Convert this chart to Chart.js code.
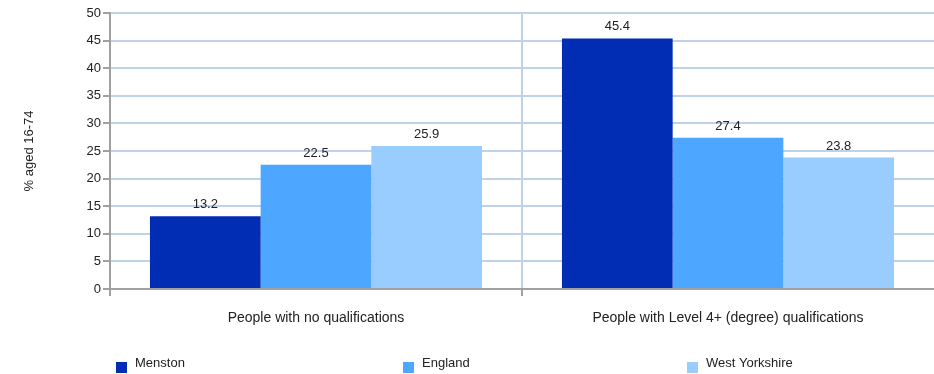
<!DOCTYPE html>
<html>
<head>
<meta charset="utf-8">
<script src="https://cdn.jsdelivr.net/npm/chart.js@4/dist/chart.umd.min.js"></script>
<style>
  html, body { margin: 0; padding: 0; background: #ffffff; }
  #wrap { width: 934px; height: 374px; position: relative; }
</style>
</head>
<body>
<div id="wrap"><canvas id="c" width="934" height="374"></canvas></div>
<script>
const categories = ["People with no qualifications", "People with Level 4+ (degree) qualifications"];
const seriesNames = ["Menston", "England", "West Yorkshire"];
const menston = [13.2, 45.4];
const england = [22.5, 27.4];
const westYorkshire = [25.9, 23.8];
const yTicks = [0, 5, 10, 15, 20, 25, 30, 35, 40, 45, 50];
const yTitle = "% aged 16-74";
const colors = ["#002db3", "#4da6ff", "#99ccff"];

const FONT = "'Liberation Sans', Arial, sans-serif";
const GRID = "#c0d2e9";
const AXIS = "#a0a0a0";
const NONE = "rgba(0,0,0,0)";

const valueLabels = {
  id: 'valueLabels',
  afterDatasetsDraw(chart) {
    const ctx = chart.ctx;
    ctx.save();
    ctx.font = "13px " + FONT;
    ctx.fillStyle = "#222222";
    ctx.textAlign = "center";
    ctx.textBaseline = "alphabetic";
    chart.data.datasets.forEach((ds, i) => {
      chart.getDatasetMeta(i).data.forEach((bar, j) => {
        ctx.fillText(ds.data[j].toFixed(1), bar.x, bar.y - 8);
      });
    });
    ctx.restore();
  }
};

const bottomLegend = {
  id: 'bottomLegend',
  afterDraw(chart) {
    const ctx = chart.ctx;
    const xs = [116, 403, 687];
    ctx.save();
    ctx.font = "13px " + FONT;
    ctx.textBaseline = "middle";
    ctx.textAlign = "left";
    chart.data.datasets.forEach((ds, i) => {
      ctx.fillStyle = ds.backgroundColor;
      ctx.fillRect(xs[i], 362, 11, 11);
      ctx.fillStyle = "#222222";
      ctx.fillText(ds.label, xs[i] + 19, 363);
    });
    ctx.restore();
  }
};

new Chart(document.getElementById('c'), {
  type: 'bar',
  data: {
    labels: categories,
    datasets: [
      { label: seriesNames[0], data: menston, backgroundColor: colors[0] },
      { label: seriesNames[1], data: england, backgroundColor: colors[1] },
      { label: seriesNames[2], data: westYorkshire, backgroundColor: colors[2] }
    ]
  },
  options: {
    responsive: false,
    animation: false,
    devicePixelRatio: 1,
    layout: { padding: { top: 13, left: 0, right: 0, bottom: 0 } },
    datasets: { bar: { categoryPercentage: 0.806, barPercentage: 1.0, borderWidth: 0 } },
    plugins: { legend: { display: false }, tooltip: { enabled: false } },
    scales: {
      x: {
        offset: true,
        grid: {
          offset: true,
          color: (c) => c.type === 'tick' ? GRID : NONE,
          tickColor: (c) => c.type === 'tick' ? AXIS : NONE,
          lineWidth: 2, tickLength: 7, drawOnChartArea: true
        },
        border: { color: AXIS, width: 2 },
        ticks: { color: "#222222", font: { family: FONT, size: 14 }, padding: 14, maxRotation: 0, autoSkip: false },
        afterFit(scale) { scale.height = 85; }
      },
      y: {
        min: 0, max: 50,
        afterBuildTicks(scale) { scale.ticks = yTicks.map(v => ({ value: v })); },
        grid: { color: GRID, lineWidth: 2, tickColor: AXIS, tickLength: 7 },
        border: { color: AXIS, width: 2 },
        ticks: { color: "#222222", font: { family: FONT, size: 13 }, padding: 2 },
        title: { display: true, text: yTitle, color: "#222222", font: { family: FONT, size: 13 }, padding: { top: 22, bottom: 0 } },
        afterFit(scale) { scale.width = 110; }
      }
    }
  },
  plugins: [valueLabels, bottomLegend]
});
</script>
</body>
</html>
